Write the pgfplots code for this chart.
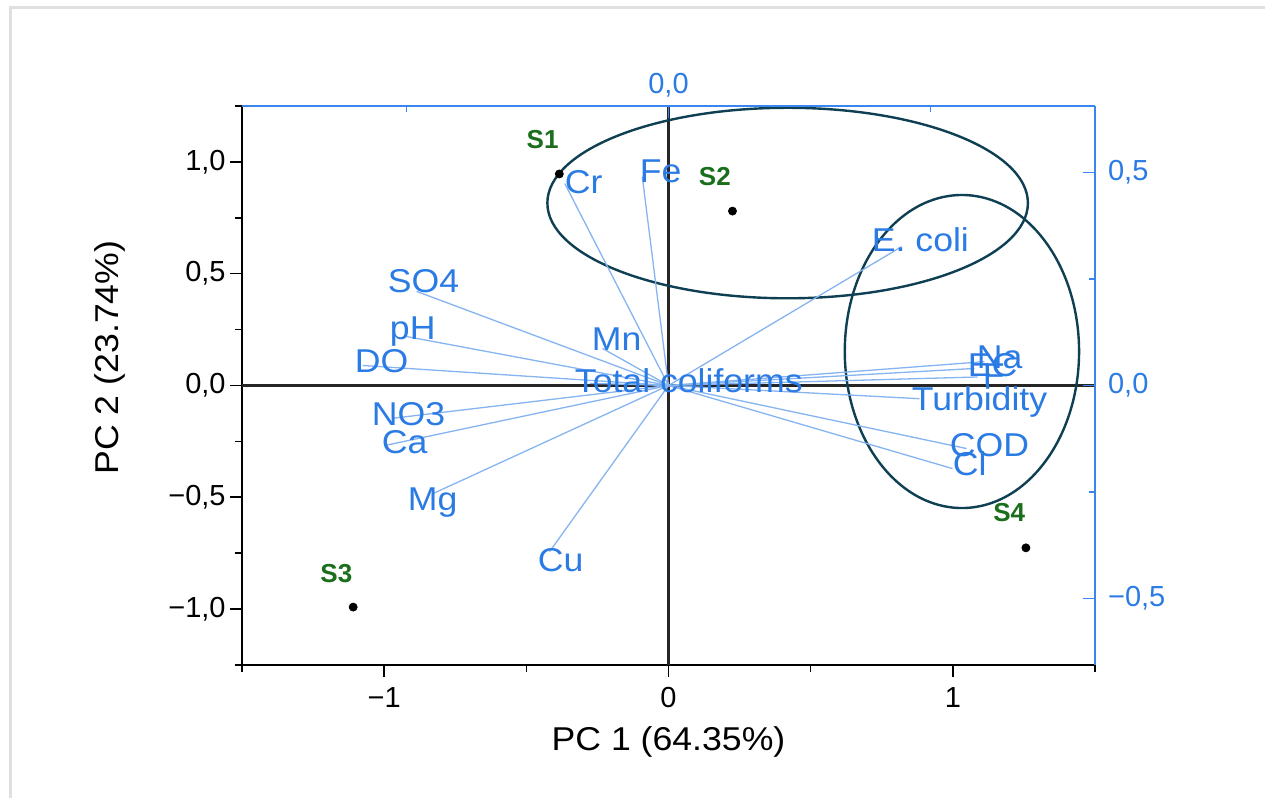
\documentclass[border=0pt]{standalone}
\usepackage{pgfplots}
\pgfplotsset{compat=1.18}
\usepackage{fontspec}
\setmainfont{Liberation Sans}
\newfontfamily\lbl[FakeStretch=1.08]{Liberation Sans}
\definecolor{lblue}{HTML}{2B7BE4}
\definecolor{axblue}{HTML}{3A86F0}
\definecolor{vecblue}{HTML}{86B4F0}
\definecolor{sgreen}{HTML}{1B6E1B}
\definecolor{ellc}{HTML}{0F3F52}
\begin{document}
\begin{tikzpicture}[x=1pt,y=1pt]
\path[use as bounding box] (0,0) rectangle (632.5,399);
% faint frame shadow
\draw[black!12, line width=1.5pt] (5,0) -- (5,395) -- (632.5,395);
% ---------------- scores axis (bottom / left) ----------------
\begin{axis}[
  at={(121pt,66.5pt)}, anchor=south west,
  scale only axis, width=426.5pt, height=279.5pt,
  xmin=-1.5, xmax=1.5, ymin=-1.25, ymax=1.25,
  axis x line*=bottom, axis y line*=left,
  axis line style={black, line width=1.1pt},
  tick align=outside,
  xtick={-1,0,1}, minor xtick={-1.5,-0.5,0.5,1.5},
  xticklabels={−1,0,1},
  ytick={-1,-0.5,0,0.5,1}, minor ytick={-1.25,-0.75,-0.25,0.25,0.75,1.25},
  yticklabels={{−1,0},{−0,5},{0,0},{0,5},{1,0}},
  major tick length=6pt, minor tick length=3.5pt,
  every tick/.style={black, line width=0.8pt},
  tick label style={font=\fontsize{14.5}{16}\selectfont, black},
  yticklabel style={inner sep=2pt},
  xticklabel style={inner sep=2pt, yshift=-3pt},
  xlabel={PC 1 (64.35\%)}, ylabel={PC 2 (23.74\%)},
  label style={font=\lbl\fontsize{16.5}{18}\selectfont},
  xlabel style={at={(axis description cs:0.5,-0.138)}, anchor=center},
  ylabel style={at={(axis description cs:-0.155,0.55)}, anchor=center, rotate=0},
  clip=false,
]
% zero lines
\addplot[black!85, line width=1.1pt] coordinates {(0,-1.25) (0,1.25)};
\addplot[black!85, line width=1.1pt] coordinates {(-1.5,0) (1.5,0)};
% sample scores
\addplot[only marks, mark=*, mark size=2pt, black] coordinates {
  (-0.384,0.946) (0.225,0.780) (-1.109,-0.991) (1.257,-0.726)};
\begin{scope}[every node/.style={anchor=base west, inner sep=0pt, text=sgreen, font=\fontsize{13}{15}\selectfont\bfseries}]
\node at (axis cs:-0.500,1.0583) {S1};
\node at (axis cs:0.1056,0.8924) {S2};
\node at (axis cs:-1.2254,-0.8789) {S3};
\node at (axis cs:1.1408,-0.6099) {S4};
\end{scope}
% ellipses
\draw[ellc, line width=1.2pt] (axis cs:0.419,0.816) ellipse [x radius=0.845, y radius=0.426];
\draw[ellc, line width=1.2pt] (axis cs:1.032,0.152) ellipse [x radius=0.412, y radius=0.700];
\end{axis}
% ---------------- loadings axis (top / right) ----------------
\begin{axis}[
  at={(121pt,66.5pt)}, anchor=south west,
  scale only axis, width=426.5pt, height=279.5pt,
  xmin=-0.814, xmax=0.814, ymin=-0.656, ymax=0.656,
  axis x line*=top, axis y line*=right,
  axis line style={axblue, line width=1.1pt},
  tick align=inside,
  xtick={0}, minor xtick={-0.5,0.5},
  xticklabels={0{,}0},
  ytick={-0.5,0,0.5}, minor ytick={-0.25,0.25},
  yticklabels={{−0,5},{0,0},{0,5}},
  major tick length=6pt, minor tick length=3pt,
  every tick/.style={axblue, line width=0.8pt},
  tick label style={font=\fontsize{14.5}{16}\selectfont, text=lblue},
  yticklabel style={xshift=3pt},
  xticklabel style={yshift=1pt},
  clip=false,
]
\pgfplotsset{vec/.style={vecblue, line width=0.65pt, forget plot}}
\addplot[vec] coordinates {(0,0) (-0.198,0.474)};   % Cr
\addplot[vec] coordinates {(0,0) (-0.050,0.490)};   % Fe
\addplot[vec] coordinates {(0,0) (0.445,0.326)};    % E. coli
\addplot[vec] coordinates {(0,0) (-0.481,0.221)};   % SO4
\addplot[vec] coordinates {(0,0) (-0.500,0.115)};   % pH
\addplot[vec] coordinates {(0,0) (-0.584,0.047)};   % DO
\addplot[vec] coordinates {(0,0) (-0.126,0.087)};   % Mn
\addplot[vec] coordinates {(0,0) (-0.150,0.005)};   % Total coliforms
\addplot[vec] coordinates {(0,0) (-0.527,-0.077)};  % NO3
\addplot[vec] coordinates {(0,0) (-0.542,-0.141)};  % Ca
\addplot[vec] coordinates {(0,0) (-0.450,-0.254)};  % Mg
\addplot[vec] coordinates {(0,0) (-0.227,-0.390)};  % Cu
\addplot[vec] coordinates {(0,0) (0.603,0.056)};    % Na
\addplot[vec] coordinates {(0,0) (0.584,0.040)};    % EC
\addplot[vec] coordinates {(0,0) (0.590,0.020)};    % F
\addplot[vec] coordinates {(0,0) (0.479,-0.031)};   % Turbidity
\addplot[vec] coordinates {(0,0) (0.569,-0.148)};   % COD
\addplot[vec] coordinates {(0,0) (0.542,-0.195)};   % Cl
\begin{scope}[every node/.style={anchor=base west, inner sep=0pt, text=lblue, font=\lbl\fontsize{16.5}{18}\selectfont}]
\node at (axis cs:-0.1985,0.4507) {Cr};
\node at (axis cs:-0.0553,0.4765) {Fe};
\node at (axis cs:0.3874,0.3146) {E. coli};
\node at (axis cs:-0.5363,0.2183) {SO4};
\node at (axis cs:-0.5324,0.1080) {pH};
\node at (axis cs:-0.5992,0.0305) {DO};
\node at (axis cs:-0.1469,0.0822) {Mn};
\node at (axis cs:-0.1794,-0.0164) {Total coliforms};
\node at (axis cs:-0.5668,-0.0939) {NO3};
\node at (axis cs:-0.5477,-0.1596) {Ca};
\node at (axis cs:-0.4981,-0.2934) {Mg};
\node at (axis cs:-0.2500,-0.4366) {Cu};
\node at (axis cs:0.5878,0.0399) {Na};
\node at (axis cs:0.5706,0.0211) {EC};
\node at (axis cs:0.5990,-0.0020) {F};
\node at (axis cs:0.4637,-0.0587) {Turbidity};
\node at (axis cs:0.5363,-0.1667) {COD};
\node at (axis cs:0.5420,-0.2113) {Cl};
\end{scope}
\end{axis}
\end{tikzpicture}
\end{document}
